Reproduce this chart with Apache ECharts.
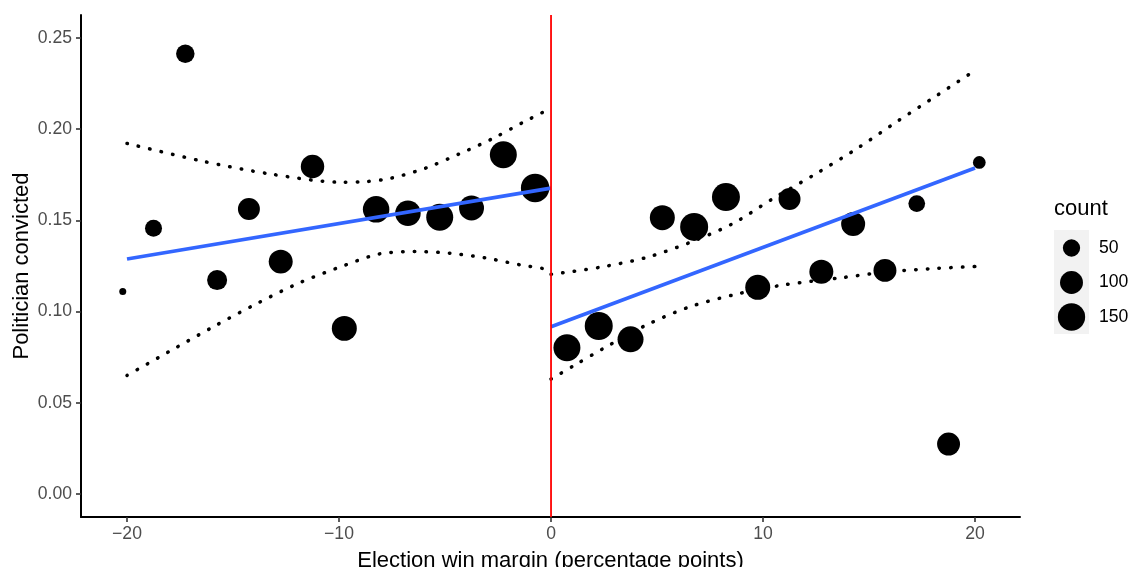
<!DOCTYPE html>
<html>
<head>
<meta charset="utf-8">
<script src="https://cdn.jsdelivr.net/npm/echarts@6/dist/echarts.min.js"></script>
<style>
html,body{margin:0;padding:0;background:#fff;}
#chart{width:1130px;height:567px;}
</style>
</head>
<body>
<div id="chart"></div>
<script>
// ---- data ----
const xLeft  = [-20.2, -18.75, -17.25, -15.75, -14.25, -12.75, -11.25, -9.75, -8.25, -6.75, -5.25, -3.75, -2.25, -0.75];
const yLeft  = [0.1110, 0.1457, 0.2414, 0.1173, 0.1562, 0.1274, 0.1795, 0.0908, 0.1561, 0.1539, 0.1517, 0.1568, 0.1860, 0.1678];
const nLeft  = [3, 48, 59, 72, 90, 111, 105, 122, 140, 128, 146, 122, 146, 165];

const xRight = [0.75, 2.25, 3.75, 5.25, 6.75, 8.25, 9.75, 11.25, 12.75, 14.25, 15.75, 17.25, 18.75, 20.2];
const yRight = [0.0802, 0.0921, 0.0848, 0.1515, 0.1464, 0.1628, 0.1133, 0.1617, 0.1219, 0.1480, 0.1226, 0.1592, 0.0274, 0.1818];
const nRight = [146, 159, 134, 122, 159, 159, 122, 90, 111, 111, 100, 46, 100, 22];

const fitLeftX  = [-20, 0];
const fitLeftY  = [0.1288, 0.1677];
const fitRightX = [0, 20];
const fitRightY = [0.0917, 0.1787];

const ciLeftUpperX = [-20, -16.49, -13.17, -9.82, -8.69, -7.56, -5.93, -4.34, -2.83, -1.31, 0];
const ciLeftUpperY = [0.1922, 0.1826, 0.1753, 0.1709, 0.1713, 0.1731, 0.1786, 0.1864, 0.1944, 0.2038, 0.2115];
const ciLeftLowerX = [-20, -17.8, -15.83, -13.86, -11.84, -9.73, -8.1, -6.45, -4.76, -3.08, -1.4, 0];
const ciLeftLowerY = [0.0650, 0.0795, 0.0923, 0.1045, 0.1159, 0.1254, 0.1316, 0.1329, 0.1320, 0.1294, 0.1255, 0.1230];
const ciRightUpperX = [0, 2.31, 4.51, 6.64, 8.6, 10.49, 12.53, 14.5, 16.31, 18.19, 20];
const ciRightUpperY = [0.1204, 0.1243, 0.1297, 0.1383, 0.1484, 0.1621, 0.1758, 0.1899, 0.2041, 0.2184, 0.2322];
const ciRightLowerX = [0, 1.05, 2.47, 4.51, 6.56, 8.76, 10.96, 13.71, 15.99, 18.19, 20];
const ciRightLowerY = [0.0630, 0.0702, 0.0798, 0.0927, 0.1027, 0.1096, 0.1146, 0.1186, 0.1219, 0.1237, 0.1247];

const cutoff = 0;
const xTicks = [-20, -10, 0, 10, 20];
const yTicks = [0, 0.05, 0.10, 0.15, 0.20, 0.25];
const legendCounts = [50, 100, 150];

// ---- helpers ----
const FONT = '"Liberation Sans", Arial, Helvetica, sans-serif';
function sizeOf(n) { return 3.66 + 1.93 * Math.sqrt(n); }
function zip(xs, ys) { return xs.map((x, i) => [x, ys[i]]); }
function zip3(xs, ys, ns) { return xs.map((x, i) => [x, ys[i], ns[i]]); }

const xMin = -22.17, xMax = 22.12, yMin = -0.0126, yMax = 0.2626;

const chart = echarts.init(document.getElementById('chart'), null, {renderer: 'canvas'});

const dotted = {color: '#000', width: 3.5, type: [0.5, 11.2], cap: 'round'};
function ciSeries(xs, ys) {
  return {type: 'line', data: zip(xs, ys), smooth: 0.3, showSymbol: false, symbol: 'none',
    lineStyle: dotted, z: 4, silent: true};
}
function fitSeries(xs, ys) {
  return {type: 'line', data: zip(xs, ys), showSymbol: false, symbol: 'none',
    lineStyle: {color: '#3366FF', width: 3.6}, z: 5, silent: true};
}

const gx = 1071.5;
const legendYs = [248, 282.5, 317];
const graphics = [
  {type: 'text', left: 1054, top: 198, style: {text: 'count', font: '22px ' + FONT, fill: '#000'}},
  {type: 'rect', shape: {x: 1054, y: 230, width: 35, height: 104}, style: {fill: '#F2F2F2'}}
];
legendCounts.forEach((c, i) => {
  graphics.push({type: 'circle', shape: {cx: gx, cy: legendYs[i], r: sizeOf(c) / 2}, style: {fill: '#000'}});
  graphics.push({type: 'text', x: 1099, y: legendYs[i], style: {text: String(c), font: '17.6px ' + FONT, fill: '#000', textVerticalAlign: 'middle'}});
});

const option = {
  animation: false,
  backgroundColor: '#fff',
  grid: {left: 81, right: 110, top: 15, bottom: 50, containLabel: false, outerBoundsMode: 'none'},
  xAxis: {
    type: 'value', min: xMin, max: xMax,
    name: 'Election win margin (percentage points)', nameLocation: 'middle', nameGap: 33,
    nameMoveOverlap: false,
    nameTextStyle: {fontFamily: FONT, fontSize: 22, color: '#000'},
    axisLine: {show: true, onZero: false, lineStyle: {color: '#000', width: 2}},
    axisTick: {show: true, length: 5, customValues: xTicks, lineStyle: {color: '#333', width: 1.6}},
    axisLabel: {customValues: xTicks, margin: 8, fontFamily: FONT, fontSize: 17.6, color: '#4D4D4D',
      formatter: v => (v < 0 ? '\u2212' + Math.abs(v) : String(v))},
    splitLine: {show: false}
  },
  yAxis: {
    type: 'value', min: yMin, max: yMax,
    name: 'Politician convicted', nameLocation: 'middle', nameGap: 48,
    nameMoveOverlap: false,
    nameTextStyle: {fontFamily: FONT, fontSize: 22, color: '#000'},
    axisLine: {show: true, onZero: false, lineStyle: {color: '#000', width: 2}},
    axisTick: {show: true, length: 5, customValues: yTicks, lineStyle: {color: '#333', width: 1.6}},
    axisLabel: {customValues: yTicks, margin: 9, fontFamily: FONT, fontSize: 17.6, color: '#4D4D4D',
      formatter: v => v.toFixed(2)},
    splitLine: {show: false}
  },
  series: [
    {type: 'scatter', data: zip3(xLeft, yLeft, nLeft), symbolSize: v => sizeOf(v[2]),
      itemStyle: {color: '#000', opacity: 1}, z: 3, silent: true},
    {type: 'scatter', data: zip3(xRight, yRight, nRight), symbolSize: v => sizeOf(v[2]),
      itemStyle: {color: '#000', opacity: 1}, z: 3, silent: true},
    fitSeries(fitLeftX, fitLeftY),
    fitSeries(fitRightX, fitRightY),
    ciSeries(ciLeftUpperX, ciLeftUpperY),
    ciSeries(ciLeftLowerX, ciLeftLowerY),
    ciSeries(ciRightUpperX, ciRightUpperY),
    ciSeries(ciRightLowerX, ciRightLowerY),
    {type: 'line', data: [[cutoff, yMin], [cutoff, yMax]], showSymbol: false, symbol: 'none',
      lineStyle: {color: '#FF0000', width: 1.8}, z: 6, silent: true}
  ],
  graphic: graphics
};
chart.setOption(option);
</script>
</body>
</html>
